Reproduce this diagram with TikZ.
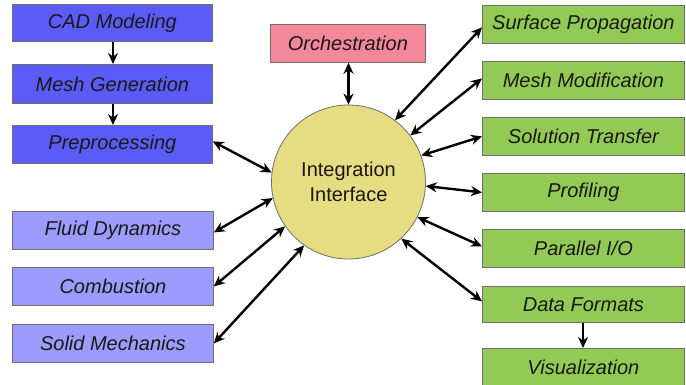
\documentclass[tikz,border=0pt]{standalone}
\usepackage{fontspec}
\setmainfont{Liberation Sans}
\usetikzlibrary{arrows.meta}
\definecolor{dblue}{HTML}{5B5BF7}
\definecolor{lblue}{HTML}{9C9CFF}
\definecolor{pinkc}{HTML}{F4879A}
\definecolor{greenc}{HTML}{93C955}
\definecolor{yellowc}{HTML}{E6DC82}
\definecolor{edgec}{HTML}{6E6E6E}
\tikzset{
  box/.style={draw=edgec, line width=0.8pt, anchor=north west, inner sep=0pt, font=\fontsize{20}{23}\selectfont\itshape, text=black!90},
  conn/.style={line width=2.4pt, black, {Stealth[length=11pt,width=10pt]}-{Stealth[length=11pt,width=10pt]}},
  oneway/.style={line width=2.4pt, black, -{Stealth[length=11pt,width=10pt]}},
}
\begin{document}
\begin{tikzpicture}[x=1pt,y=-1pt]
\useasboundingbox (0,0) rectangle (686,385);
\fill[white] (0,0) rectangle (686,385);
% left column
\node[box, fill=dblue, minimum width=200pt, minimum height=37pt] (cad) at (12,4) {CAD Modeling};
\node[box, fill=dblue, minimum width=200pt, minimum height=39pt] (mesh) at (12,64) {Mesh Generation};
\node[box, fill=dblue, minimum width=200pt, minimum height=38pt] (pre) at (12,125) {Preprocessing};
\node[box, fill=lblue, minimum width=201pt, minimum height=38pt] (fluid) at (12,211) {Fluid Dynamics};
\node[box, fill=lblue, minimum width=201pt, minimum height=38pt] (comb) at (12,267) {Combustion};
\node[box, fill=lblue, minimum width=201pt, minimum height=38pt] (solid) at (12,324) {Solid Mechanics};
% orchestration and circle
\node[box, fill=pinkc, minimum width=155pt, minimum height=38pt] (orch) at (270,24) {Orchestration};
\node[circle, draw=edgec, line width=0.8pt, fill=yellowc, minimum size=154pt, inner sep=0pt, align=center, font=\fontsize{20}{25}\selectfont, text=black!90] (ii) at (348.5,182) {Integration\\Interface};
% right column
\node[box, fill=greenc, minimum width=202pt, minimum height=38pt] (surf) at (482,5) {Surface Propagation};
\node[box, fill=greenc, minimum width=202pt, minimum height=38pt] (mmod) at (482,61) {Mesh Modification};
\node[box, fill=greenc, minimum width=202pt, minimum height=38pt] (sol) at (482,117) {Solution Transfer};
\node[box, fill=greenc, minimum width=202pt, minimum height=38pt] (prof) at (482,173) {Profiling};
\node[box, fill=greenc, minimum width=202pt, minimum height=38pt] (pio) at (482,229) {Parallel I/O};
\node[box, fill=greenc, minimum width=202pt, minimum height=36pt] (data) at (482,286) {Data Formats};
\node[box, fill=greenc, minimum width=202pt, minimum height=38pt] (vis) at (482,348) {Visualization};
% connectors
\draw[oneway] (cad.south -| 113,0) -- (mesh.north -| 113,0);
\draw[oneway] (mesh.south -| 113,0) -- (pre.north -| 113,0);
\draw[oneway] (data.south -| 583,0) -- (vis.north -| 583,0);
\draw[conn] (orch.south -| ii.north) -- (ii.north);
\draw[conn] ([yshift=3pt]pre.east) -- (ii.173);
\draw[conn] ([yshift=-2pt]fluid.east) -- (ii.192);
\draw[conn] (comb.east) -- (ii.215);
\draw[conn] (solid.east) -- (ii.235);
\draw[conn] (ii.53) -- ([yshift=-3pt]surf.west);
\draw[conn] (ii.37) -- ([yshift=2pt]mmod.west);
\draw[conn] (ii.20) -- (sol.west);
\draw[conn] (ii.-3) -- (prof.west);
\draw[conn] (ii.-27) -- ([yshift=2pt]pio.west);
\draw[conn] (ii.-47) -- ([yshift=3pt]data.west);
\end{tikzpicture}
\end{document}
